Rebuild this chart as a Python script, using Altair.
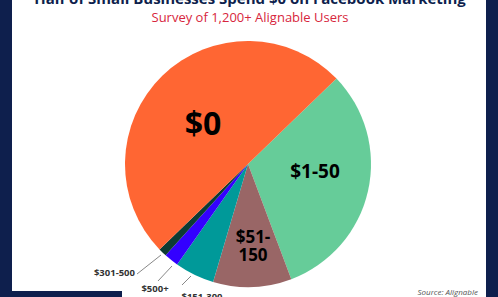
import math
import altair as alt
import pandas as pd

# ---- data ----
categories = ["$1-50", "$51-150", "$151-300", "$500+", "$301-500", "$0"]
shares = [31.5, 10.3, 5.2, 1.9, 1.1, 50.0]
colors = ["#66CC99", "#996666", "#009999", "#3300FF", "#0D3B33", "#FF6633"]
title_text = "Half of Small Businesses Spend $0 on Facebook Marketing"
subtitle_text = "Survey of 1,200+ Alignable Users"
source_text = "Source: Alignable"

W, H = 498, 297
NAVY = "#0E1F4D"
FONT = "Open Sans"

df = pd.DataFrame({"cat": categories, "pct": shares, "ord": list(range(len(categories)))})
start = math.radians(46)

pie = alt.Chart(df).mark_arc(outerRadius=123, stroke=None).encode(
    theta=alt.Theta("pct:Q", stack=True, scale=alt.Scale(range=[start, start + 2 * math.pi])),
    color=alt.Color("cat:N", scale=alt.Scale(domain=categories, range=colors), legend=None),
    order=alt.Order("ord:Q"),
    x=alt.value(248),
    y=alt.value(164),
)

one = alt.Data(values=[{}])


def rect(x1, x2, y1, y2, color):
    return alt.Chart(one).mark_rect(color=color).encode(
        x=alt.value(x1), x2=alt.value(x2), y=alt.value(y1), y2=alt.value(y2)
    )


def text(t, x, y, size, color="#000", weight="bold", align="center", baseline="middle",
         style="normal", line_height=None):
    kw = dict(text=t, fontSize=size, font=FONT, fontWeight=weight, color=color,
              align=align, baseline=baseline, fontStyle=style)
    if line_height is not None:
        kw["lineHeight"] = line_height
    return alt.Chart(one).mark_text(**kw).encode(x=alt.value(x), y=alt.value(y))


def line(x1, y1, x2, y2):
    return alt.Chart(one).mark_rule(color="#888", strokeWidth=1).encode(
        x=alt.value(x1), y=alt.value(y1), x2=alt.value(x2), y2=alt.value(y2)
    )


layers = [
    pie,
    rect(0, 12, 0, H, NAVY),
    rect(486, W, 0, H, NAVY),
    rect(0, 122, 291, H, NAVY),
    text(title_text, 250, 4, 15, NAVY, baseline="alphabetic"),
    text(subtitle_text, 250, 22, 13, "#D7263D", weight="normal", baseline="alphabetic"),
    text("$0", 203, 125, 32),
    text("$1-50", 315, 172, 19),
    text(["$51-", "150"], 253, 238, 17, line_height=18),
    line(137, 274, 161, 255),
    line(158, 281, 172, 266),
    line(182, 285, 191, 276),
    text("$301-500", 135, 273, 9.5, "#333", align="right"),
    text("$500+", 155, 289, 9.5, "#333"),
    text("$151-300", 202, 297, 9.5, "#333"),
    text(source_text, 478, 295, 8, "#555", weight="normal", align="right",
         baseline="alphabetic", style="italic"),
]

chart = alt.layer(*layers).properties(
    width=W, height=H, autosize=alt.AutoSizeParams(type="none"), padding=0, background="white"
).configure_view(stroke=None)

chart.save("out.html", embed_options={"renderer": "svg", "actions": False})
